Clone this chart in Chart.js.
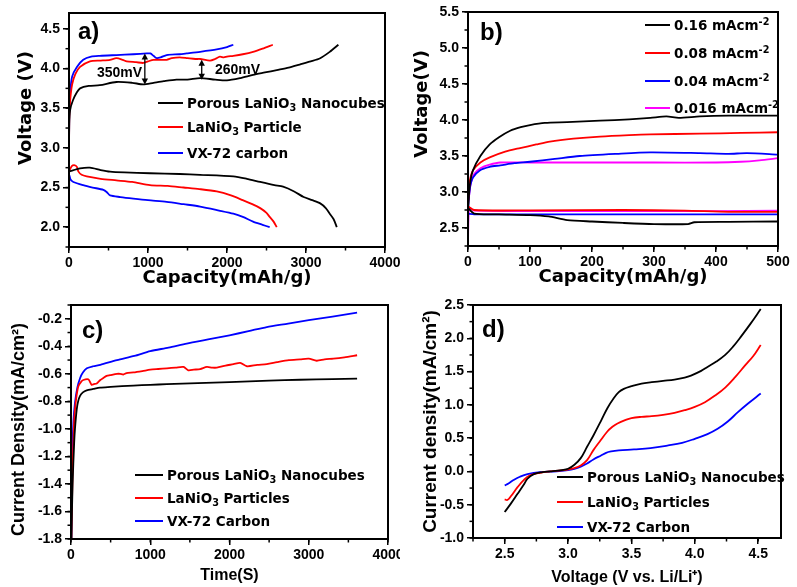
<!DOCTYPE html>
<html><head><meta charset="utf-8">
<script src="https://cdn.jsdelivr.net/npm/chart.js@4"></script>
<style>
html,body{margin:0;padding:0;background:#fff;}
#wrap{position:relative;width:797px;height:587px;overflow:hidden;background:#fff;}
canvas{position:absolute;}
.lg{position:absolute;display:flex;align-items:center;height:16px;font:bold 13.5px "DejaVu Sans",sans-serif;color:#000;white-space:nowrap;}
.sw{display:inline-block;width:25px;height:2px;margin-right:4px;}
.lg sub{font-size:72%;vertical-align:-0.35em;line-height:0;}
.lg sup{font-size:72%;vertical-align:0.55em;line-height:0;}
.pl{position:absolute;font:bold 24px "Liberation Sans",Arial,sans-serif;line-height:24px;color:#000;}
.an{position:absolute;font:bold 14px "Liberation Sans",Arial,sans-serif;line-height:16px;color:#000;}
</style></head>
<body>
<div id="wrap">
<canvas id="ca" width="400" height="290" style="left:0;top:0"></canvas>
<canvas id="cb" width="397" height="290" style="left:400px;top:0"></canvas>
<canvas id="cc" width="400" height="297" style="left:0;top:290px"></canvas>
<canvas id="cd" width="397" height="297" style="left:400px;top:290px"></canvas>

<div class="pl" style="left:78px;top:19px">a)</div>
<div class="pl" style="left:480px;top:20px">b)</div>
<div class="pl" style="left:82px;top:318px">c)</div>
<div class="pl" style="left:482px;top:317px">d)</div>

<div class="an" style="left:97px;top:64px">350mV</div>
<div class="an" style="left:215px;top:61px">260mV</div>

<div class="lg" style="left:158px;top:95px"><span class="sw" style="background:#000"></span><span>Porous LaNiO<sub>3</sub> Nanocubes</span></div>
<div class="lg" style="left:158px;top:119px"><span class="sw" style="background:#ff0000"></span><span>LaNiO<sub>3</sub> Particle</span></div>
<div class="lg" style="left:158px;top:145px"><span class="sw" style="background:#0000ff"></span><span>VX-72 carbon</span></div>

<div class="lg" style="left:645px;top:17px"><span class="sw" style="background:#000"></span><span>0.16 mAcm<sup>-2</sup></span></div>
<div class="lg" style="left:645px;top:45px"><span class="sw" style="background:#ff0000"></span><span>0.08 mAcm<sup>-2</sup></span></div>
<div class="lg" style="left:645px;top:73px"><span class="sw" style="background:#0000ff"></span><span>0.04 mAcm<sup>-2</sup></span></div>
<div class="lg" style="left:645px;top:100px"><span class="sw" style="background:#ff00ff"></span><span>0.016 mAcm<sup>-2</sup></span></div>

<div class="lg" style="left:135px;top:467px"><span class="sw" style="background:#000;width:28px"></span><span>Porous LaNiO<sub>3</sub> Nanocubes</span></div>
<div class="lg" style="left:135px;top:490px"><span class="sw" style="background:#ff0000;width:28px"></span><span>LaNiO<sub>3</sub> Particles</span></div>
<div class="lg" style="left:135px;top:513px"><span class="sw" style="background:#0000ff;width:28px"></span><span>VX-72 Carbon</span></div>

<div class="lg" style="left:557px;top:469px"><span class="sw" style="background:#000;width:26px"></span><span>Porous LaNiO<sub>3</sub> Nanocubes</span></div>
<div class="lg" style="left:557px;top:494px"><span class="sw" style="background:#ff0000;width:26px"></span><span>LaNiO<sub>3</sub> Particles</span></div>
<div class="lg" style="left:557px;top:519px"><span class="sw" style="background:#0000ff;width:26px"></span><span>VX-72 Carbon</span></div>
</div>

<script>
// ---------- Panel a: charge/discharge (Capacity mAh/g, Voltage V) ----------
const aNanocubesCharge = [[0,2.75],[3,3.3],[15,3.48],[50,3.6],[100,3.7],[140,3.75],[250,3.78],[390,3.79],[600,3.83],[800,3.82],[940,3.8],[1070,3.82],[1200,3.84],[1360,3.86],[1500,3.86],[1660,3.88],[1850,3.86],[2000,3.85],[2170,3.88],[2330,3.92],[2480,3.95],[2630,3.98],[2780,4.01],[2920,4.05],[3060,4.09],[3180,4.13],[3300,4.21],[3410,4.3]];
const aParticleCharge = [[0,2.75],[3,3.35],[15,3.6],[40,3.8],[80,3.93],[140,4.02],[265,4.09],[400,4.1],[520,4.11],[600,4.13],[680,4.11],[730,4.09],[850,4.08],[940,4.07],[1000,4.09],[1070,4.11],[1236,4.11],[1300,4.13],[1400,4.14],[1500,4.13],[1600,4.12],[1660,4.12],[1785,4.1],[1850,4.12],[1910,4.15],[1960,4.14],[2000,4.15],[2080,4.16],[2200,4.18],[2330,4.21],[2450,4.25],[2580,4.3]];
const aCarbonCharge = [[0,2.7],[3,3.4],[15,3.7],[40,3.9],[100,4.02],[180,4.11],[280,4.15],[390,4.16],[600,4.17],[815,4.18],[985,4.19],[1030,4.19],[1070,4.16],[1110,4.13],[1160,4.14],[1236,4.17],[1400,4.18],[1490,4.19],[1660,4.21],[1870,4.24],[2000,4.27],[2080,4.3]];
const aNanocubesDischarge = [[0,2.7],[140,2.74],[265,2.75],[400,2.72],[520,2.7],[700,2.69],[1025,2.68],[1400,2.67],[1660,2.66],[2080,2.64],[2250,2.61],[2420,2.57],[2600,2.53],[2710,2.51],[2850,2.45],[2970,2.38],[3080,2.34],[3180,2.3],[3250,2.24],[3300,2.17],[3350,2.1],[3390,2.0]];
const aParticleDischarge = [[0,2.7],[35,2.77],[75,2.78],[100,2.76],[120,2.7],[160,2.66],[225,2.64],[400,2.61],[600,2.59],[800,2.57],[1025,2.53],[1250,2.52],[1450,2.5],[1650,2.48],[1870,2.45],[2050,2.4],[2200,2.34],[2320,2.29],[2420,2.24],[2500,2.18],[2540,2.13],[2590,2.07],[2630,2.0]];
const aCarbonDischarge = [[0,2.25],[5,2.65],[20,2.6],[55,2.57],[180,2.53],[300,2.5],[435,2.47],[480,2.44],[520,2.4],[650,2.38],[815,2.36],[1000,2.34],[1236,2.32],[1450,2.29],[1660,2.26],[1900,2.21],[2080,2.17],[2200,2.13],[2330,2.07],[2450,2.03],[2540,2.0]];
const aXTicks = [0,1000,2000,3000,4000];
const aYTicks = [2.0,2.5,3.0,3.5,4.0,4.5];
const aGapCapacity = [960,1680];
const aGapLow = [3.8,3.86];
const aGapHigh = [4.19,4.11];

// ---------- Panel b: rate curves ----------
const b016Charge = [[0,2.75],[3,3.1],[8,3.3],[20,3.5],[35,3.66],[50,3.76],[68,3.85],[85,3.9],[100,3.93],[124,3.96],[160,3.97],[213,3.99],[260,4.01],[294,4.03],[320,4.05],[340,4.03],[374,4.05],[420,4.06],[500,4.06]];
const b008Charge = [[0,2.8],[3,3.15],[8,3.3],[20,3.41],[35,3.48],[60,3.56],[84,3.61],[110,3.66],[132,3.7],[170,3.74],[213,3.77],[260,3.79],[294,3.8],[374,3.81],[440,3.82],[500,3.83]];
const b004Charge = [[0,2.75],[3,3.05],[8,3.2],[19,3.3],[35,3.35],[52,3.37],[75,3.4],[100,3.42],[140,3.46],[180,3.5],[240,3.53],[294,3.55],[374,3.54],[420,3.53],[450,3.54],[500,3.52]];
const b0016Charge = [[0,3.5],[1,2.9],[4,3.1],[10,3.25],[20,3.33],[35,3.38],[52,3.41],[100,3.41],[200,3.41],[300,3.41],[400,3.41],[440,3.42],[470,3.44],[500,3.47]];
const b016Discharge = [[0,2.78],[10,2.7],[50,2.69],[100,2.68],[130,2.66],[160,2.61],[200,2.59],[250,2.57],[300,2.555],[355,2.555],[365,2.58],[420,2.585],[500,2.59]];
const b008Discharge = [[0,2.8],[10,2.75],[100,2.745],[250,2.75],[350,2.74],[420,2.725],[500,2.725]];
const b004Discharge = [[0,2.7],[10,2.69],[200,2.69],[400,2.69],[500,2.69]];
const b0016Discharge = [[0,2.3],[2,2.78],[10,2.74],[200,2.735],[400,2.735],[500,2.74]];
const bXTicks = [0,100,200,300,400,500];
const bYTicks = [2.5,3.0,3.5,4.0,4.5,5.0,5.5];

// ---------- Panel c: chronoamperometry (Time s, Current density) ----------
const cNanocubes = [[5,-1.8],[20,-1.4],[40,-1.1],[50,-1.0],[72,-0.86],[90,-0.8],[114,-0.76],[150,-0.735],[198,-0.72],[280,-0.71],[366,-0.7],[500,-0.695],[787,-0.685],[1000,-0.68],[1210,-0.675],[1600,-0.668],[2000,-0.66],[2500,-0.65],[2890,-0.643],[3300,-0.638],[3610,-0.635]];
const cParticles = [[5,-1.8],[20,-1.3],[35,-1.0],[50,-0.86],[70,-0.76],[93,-0.69],[125,-0.66],[156,-0.645],[219,-0.64],[240,-0.66],[260,-0.68],[290,-0.675],[325,-0.67],[370,-0.645],[408,-0.63],[450,-0.615],[493,-0.61],[580,-0.6],[620,-0.6],[660,-0.605],[700,-0.595],[787,-0.59],[900,-0.58],[1000,-0.57],[1100,-0.565],[1210,-0.56],[1320,-0.555],[1420,-0.55],[1480,-0.575],[1550,-0.57],[1630,-0.565],[1715,-0.55],[1780,-0.555],[1840,-0.555],[1950,-0.54],[2050,-0.53],[2135,-0.52],[2220,-0.545],[2350,-0.535],[2470,-0.53],[2600,-0.515],[2750,-0.5],[2890,-0.495],[3000,-0.49],[3100,-0.505],[3200,-0.495],[3310,-0.49],[3450,-0.48],[3610,-0.465]];
const cCarbon = [[5,-1.8],[15,-1.2],[30,-0.95],[50,-0.81],[80,-0.7],[115,-0.63],[150,-0.59],[200,-0.56],[280,-0.545],[370,-0.535],[580,-0.5],[800,-0.47],[1000,-0.435],[1230,-0.41],[1460,-0.38],[1730,-0.35],[2000,-0.32],[2240,-0.29],[2470,-0.26],[2740,-0.235],[3000,-0.21],[3300,-0.185],[3610,-0.156]];
const cXTicks = [0,1000,2000,3000,4000];
const cYTicks = [-1.8,-1.6,-1.4,-1.2,-1.0,-0.8,-0.6,-0.4,-0.2];

// ---------- Panel d: LSV (Voltage vs Li/Li+, Current density) ----------
const dNanocubes = [[2.5,-0.61],[2.55,-0.48],[2.6,-0.34],[2.65,-0.2],[2.68,-0.11],[2.73,-0.04],[2.8,-0.01],[2.86,0.0],[2.95,0.02],[3.0,0.04],[3.05,0.1],[3.1,0.2],[3.15,0.37],[3.2,0.54],[3.26,0.76],[3.31,0.95],[3.36,1.1],[3.4,1.19],[3.44,1.24],[3.5,1.28],[3.58,1.32],[3.66,1.34],[3.75,1.36],[3.84,1.38],[3.92,1.41],[3.97,1.44],[4.05,1.51],[4.1,1.57],[4.17,1.65],[4.24,1.75],[4.3,1.87],[4.37,2.04],[4.44,2.22],[4.52,2.44]];
const dParticles = [[2.5,-0.42],[2.52,-0.43],[2.55,-0.37],[2.6,-0.24],[2.65,-0.13],[2.7,-0.06],[2.78,-0.02],[2.86,0.0],[2.95,0.015],[3.0,0.03],[3.05,0.05],[3.1,0.09],[3.15,0.17],[3.2,0.32],[3.25,0.45],[3.31,0.6],[3.35,0.67],[3.39,0.72],[3.45,0.77],[3.5,0.8],[3.58,0.82],[3.66,0.83],[3.75,0.85],[3.84,0.88],[3.92,0.92],[4.0,0.97],[4.08,1.04],[4.16,1.14],[4.24,1.26],[4.32,1.42],[4.4,1.6],[4.46,1.73],[4.52,1.9]];
const dCarbon = [[2.5,-0.21],[2.53,-0.18],[2.57,-0.13],[2.62,-0.08],[2.68,-0.04],[2.78,-0.01],[2.91,0.0],[3.0,0.02],[3.05,0.04],[3.1,0.07],[3.15,0.12],[3.2,0.18],[3.26,0.24],[3.3,0.28],[3.34,0.3],[3.4,0.315],[3.52,0.33],[3.65,0.35],[3.79,0.39],[3.9,0.43],[4.0,0.49],[4.1,0.56],[4.18,0.64],[4.26,0.75],[4.34,0.89],[4.42,1.02],[4.52,1.17]];
const dXTicks = [2.5,3.0,3.5,4.0,4.5];
const dYTicks = [-1.0,-0.5,0.0,0.5,1.0,1.5,2.0,2.5];

const BLACK='#000000', RED='#ff0000', BLUE='#0000ff', MAGENTA='#ff00ff';
const FT = {family:'"Liberation Sans", Arial, sans-serif', size:14, weight:'bold'};
const FT_WIDE = {family:'"DejaVu Sans", sans-serif', size:18, weight:'bold'};
const FT_TITLE16 = {family:'"Liberation Sans", Arial, sans-serif', size:16, weight:'bold'};
const FT_TITLE18 = {family:'"Liberation Sans", Arial, sans-serif', size:18, weight:'bold'};
const FT_TITLE19 = {family:'"Liberation Sans", Arial, sans-serif', size:19, weight:'bold'};

const frameTicks = {
  id:'frameTicks',
  afterDraw(chart, args, o){
    const ctx=chart.ctx, ca=chart.chartArea;
    ctx.save(); ctx.strokeStyle='#000'; ctx.lineWidth=1.5;
    ['x','y'].forEach(id=>{
      const s=chart.scales[id], step=o[id]; if(!step) return;
      const n0=Math.ceil(s.min/step-1e-6), n1=Math.floor(s.max/step+1e-6);
      for(let n=n0;n<=n1;n++){
        const p=s.getPixelForValue(n*step);
        ctx.beginPath();
        if(id==='x'){ctx.moveTo(p,ca.bottom);ctx.lineTo(p,ca.bottom+3.5);}
        else{ctx.moveTo(ca.left,p);ctx.lineTo(ca.left-3.5,p);}
        ctx.stroke();
      }
    });
    ctx.lineWidth=2;
    ctx.strokeRect(ca.left,ca.top,ca.right-ca.left,ca.bottom-ca.top);
    ctx.restore();
  }
};
const gapArrows = {
  id:'gapArrows',
  afterDatasetsDraw(chart, args, o){
    if(!o || !o.cap) return;
    const sx=chart.scales.x, sy=chart.scales.y, ctx=chart.ctx;
    ctx.save(); ctx.strokeStyle='#000'; ctx.fillStyle='#000'; ctx.lineWidth=1.3;
    const head=(x,y,d)=>{ctx.beginPath();ctx.moveTo(x,y);ctx.lineTo(x-3.2,y-6*d);ctx.lineTo(x+3.2,y-6*d);ctx.closePath();ctx.fill();};
    o.cap.forEach((c,i)=>{
      const x=sx.getPixelForValue(c), y1=sy.getPixelForValue(o.low[i]), y2=sy.getPixelForValue(o.high[i]);
      ctx.beginPath(); ctx.moveTo(x,y1-4); ctx.lineTo(x,y2+4); ctx.stroke();
      head(x,y1,1); head(x,y2,-1);
    });
    ctx.restore();
  }
};

function build(id, c){
  const el=document.getElementById(id);
  const W=el.width, H=el.height, A=c.area;
  return new Chart(el,{
    type:'line',
    data:{datasets:c.series.map(s=>({
      data:s.data.map(p=>({x:p[0],y:p[1]})),
      borderColor:s.color, backgroundColor:s.color, borderWidth:1.8,
      pointRadius:0, tension:c.tension, fill:false
    }))},
    options:{
      responsive:false, animation:false, events:[],
      layout:{padding:{left:0,top:A.top,right:W-A.right,bottom:0}},
      plugins:{legend:{display:false},tooltip:{enabled:false},
        frameTicks:{x:c.xMinor,y:c.yMinor},
        gapArrows:c.arrows||{}},
      scales:{
        x:{type:'linear',min:c.xMin,max:c.xMax,
          afterBuildTicks:s=>{s.ticks=c.xTicks.map(v=>({value:v}));},
          afterFit:s=>{s.height=H-A.bottom;s.paddingLeft=0;s.paddingRight=0;},
          ticks:{font:FT,color:'#000',padding:2,maxRotation:0,autoSkip:false,callback:c.xFmt},
          grid:{display:true,drawOnChartArea:false,drawTicks:true,tickLength:6,color:'#000',lineWidth:1.5},
          border:{display:true,color:'#000',width:2},
          title:{display:true,text:c.xTitle,font:c.xFont,color:'#000',padding:{top:0,bottom:c.xPad}}
        },
        y:{type:'linear',min:c.yMin,max:c.yMax,
          afterBuildTicks:s=>{s.ticks=c.yTicks.map(v=>({value:v}));},
          afterFit:s=>{s.width=A.left;s.paddingTop=0;s.paddingBottom=0;},
          ticks:{font:FT,color:'#000',padding:3,autoSkip:false,callback:v=>v.toFixed(1)},
          grid:{display:true,drawOnChartArea:false,drawTicks:true,tickLength:6,color:'#000',lineWidth:1.5},
          border:{display:true,color:'#000',width:2},
          title:{display:true,text:c.yTitle,font:c.yFont,color:'#000',padding:{top:c.yPad,bottom:0}}
        }
      }
    },
    plugins:[frameTicks,gapArrows]
  });
}

build('ca',{
  area:{left:69,right:385,top:13,bottom:247},
  xMin:0,xMax:4000,yMin:1.75,yMax:4.7,xTicks:aXTicks,yTicks:aYTicks,xMinor:500,yMinor:0.25,
  xFmt:v=>String(v), xTitle:'Capacity(mAh/g)', yTitle:'       Voltage (V)',
  xFont:FT_WIDE, yFont:FT_WIDE, xPad:1, yPad:16, tension:0.25,
  arrows:{cap:aGapCapacity,low:aGapLow,high:aGapHigh},
  series:[
    {data:aNanocubesCharge,color:BLACK},{data:aParticleCharge,color:RED},{data:aCarbonCharge,color:BLUE},
    {data:aNanocubesDischarge,color:BLACK},{data:aParticleDischarge,color:RED},{data:aCarbonDischarge,color:BLUE}
  ]
});
build('cb',{
  area:{left:68,right:378,top:12,bottom:246},
  xMin:0,xMax:500,yMin:2.25,yMax:5.5,xTicks:bXTicks,yTicks:bYTicks,xMinor:50,yMinor:0.25,
  xFmt:v=>String(v), xTitle:'Capacity(mAh/g)', yTitle:'        Voltage(V)',
  xFont:FT_WIDE, yFont:FT_WIDE, xPad:2, yPad:12, tension:0.25,
  series:[
    {data:b016Discharge,color:BLACK},{data:b008Discharge,color:RED},{data:b004Discharge,color:BLUE},{data:b0016Discharge,color:MAGENTA},
    {data:b016Charge,color:BLACK},{data:b008Charge,color:RED},{data:b004Charge,color:BLUE},{data:b0016Charge,color:MAGENTA}
  ]
});
build('cc',{
  area:{left:71,right:388,top:15,bottom:249},
  xMin:0,xMax:4000,yMin:-1.8,yMax:-0.1,xTicks:cXTicks,yTicks:cYTicks,xMinor:500,yMinor:0.1,
  xFmt:v=>String(v), xTitle:'Time(S)', yTitle:'Current Density(mA/cm\u00B2)   ',
  xFont:FT_TITLE16, yFont:FT_TITLE18, xPad:2, yPad:8, tension:0.25,
  series:[{data:cNanocubes,color:BLACK},{data:cParticles,color:RED},{data:cCarbon,color:BLUE}]
});
build('cd',{
  area:{left:73,right:381,top:15,bottom:248},
  xMin:2.25,xMax:4.68,yMin:-1.0,yMax:2.5,xTicks:dXTicks,yTicks:dYTicks,xMinor:0.25,yMinor:0.25,
  xFmt:v=>v.toFixed(1), xTitle:'Voltage (V vs. Li/Li\u207A)', yTitle:'Current density(mA/cm\u00B2)',
  xFont:FT_TITLE16, yFont:FT_TITLE19, xPad:0, yPad:19, tension:0.4,
  series:[{data:dNanocubes,color:BLACK},{data:dParticles,color:RED},{data:dCarbon,color:BLUE}]
});
</script>
</body></html>
